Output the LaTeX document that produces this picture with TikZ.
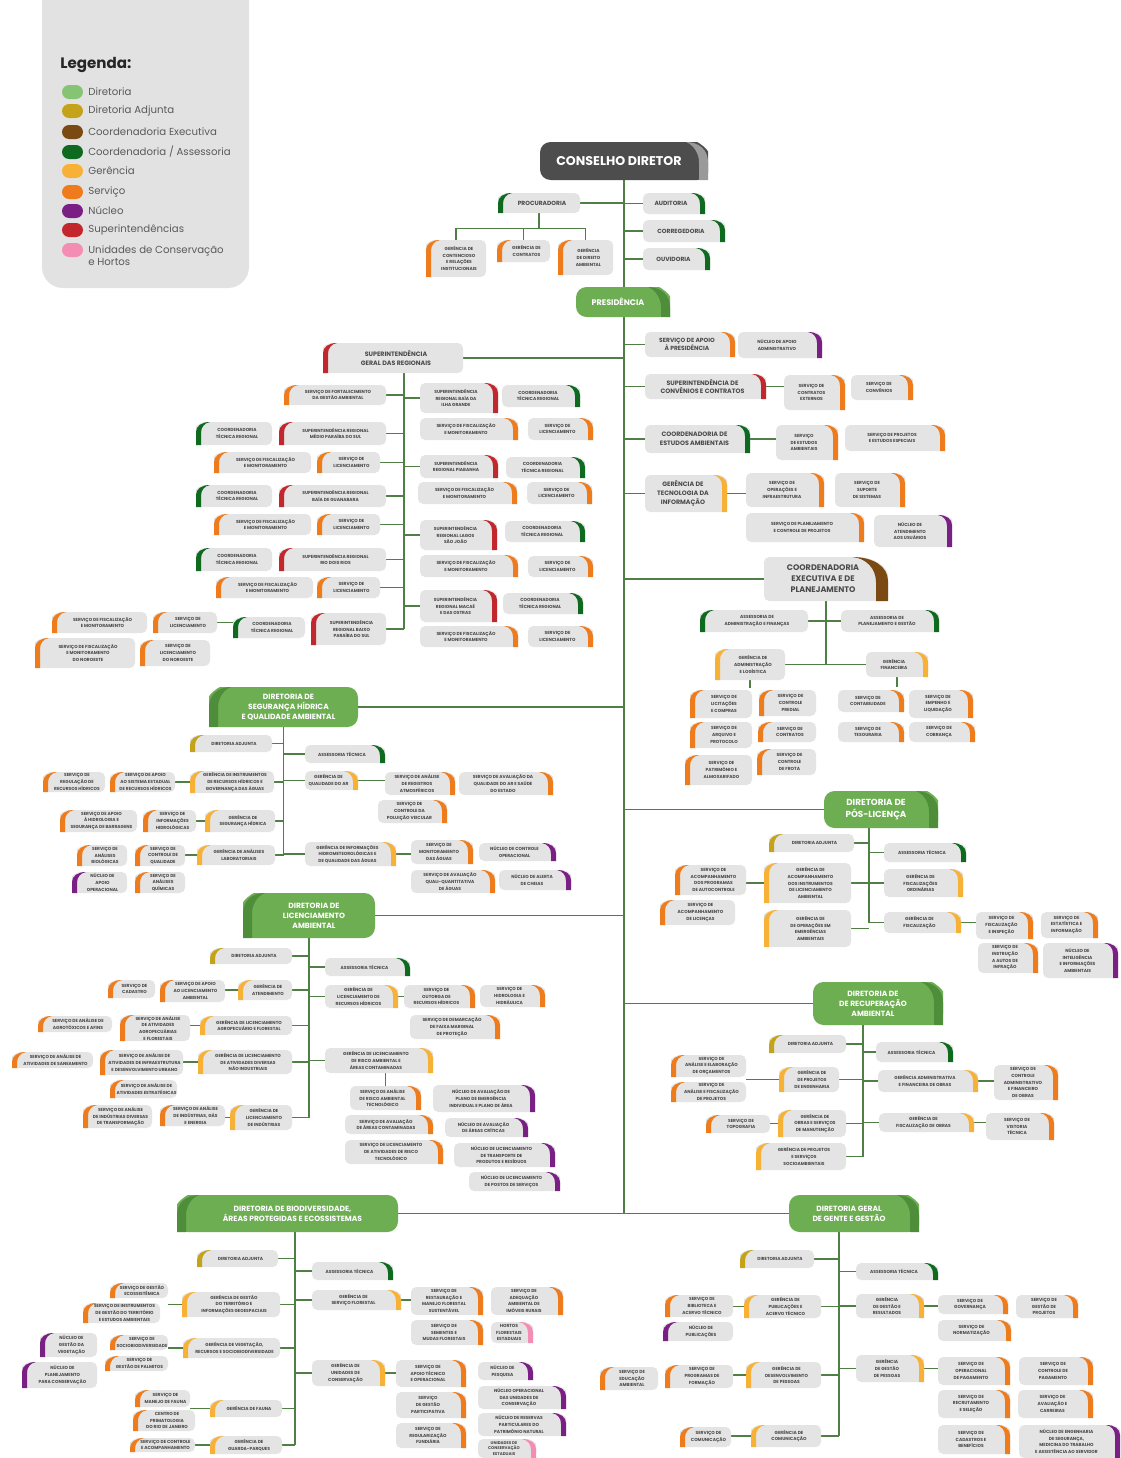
\documentclass[tikz,border=0pt]{standalone}
\usepackage{fontspec}
\newfontfamily\pop{Poppins}
\usetikzlibrary{fit}
\pgfdeclarelayer{bg}
\pgfsetlayers{bg,main}
\definecolor{boxgray}{HTML}{E4E4E4}
\definecolor{leggray}{HTML}{E2E2E2}
\definecolor{tgray}{HTML}{4A4A4A}
\definecolor{legtxt}{HTML}{5A5A5A}
\definecolor{lineg}{HTML}{4F7F45}
\definecolor{dirg}{HTML}{6EAE52}
\definecolor{dirt}{HTML}{4E8E3A}
\definecolor{consg}{HTML}{4D4D4D}
\definecolor{consl}{HTML}{9A9A9A}
\definecolor{cDir}{HTML}{86C474}
\definecolor{cAdj}{HTML}{C4A31A}
\definecolor{cExe}{HTML}{7B4A12}
\definecolor{cCoo}{HTML}{0E6A1F}
\definecolor{cGer}{HTML}{F7B136}
\definecolor{cSer}{HTML}{EE7B1C}
\definecolor{cNuc}{HTML}{7A1F83}
\definecolor{cSup}{HTML}{C1272D}
\definecolor{cUni}{HTML}{F38DB3}
\newcommand\fS{\pop\bfseries\fontsize{2.5pt}{3.8pt}\selectfont}
\newcommand\fSS{\pop\bfseries\fontsize{2.3pt}{3.2pt}\selectfont}
\newcommand\fM{\pop\bfseries\fontsize{3.4pt}{4.6pt}\selectfont}
\newcommand\fL{\pop\bfseries\fontsize{3.6pt}{5pt}\selectfont}
\newcommand\fXL{\pop\bfseries\fontsize{4.6pt}{6.2pt}\selectfont}
\newcommand\fD{\pop\bfseries\fontsize{4.3pt}{5.8pt}\selectfont}
\newcommand\fDB{\pop\bfseries\fontsize{5pt}{7pt}\selectfont}
\newcommand\fBig{\pop\bfseries\fontsize{7.2pt}{8pt}\selectfont}
\newcommand\fPres{\pop\bfseries\fontsize{4.6pt}{5pt}\selectfont}
\newcommand\legf{\pop\fontsize{5.8pt}{7pt}\selectfont}
\newcommand\legh{\pop\bfseries\fontsize{8.6pt}{9pt}\selectfont}
\newcommand\tabW{14}
\newcommand\tabD{10}
\newcommand\tabK{5}
\tikzset{
 txt/.style={align=center, inner sep=0pt, text=tgray},
 dtxt/.style={align=center, inner sep=0pt, text=white},
 ln/.style={draw=lineg, line width=0.7pt},
 dln/.style={draw=lineg, line width=1pt},
 trunk/.style={draw=lineg, line width=1.4pt},
}
% box with tab on the right
\newcommand\bR[8][\fS]{%
\fill[boxgray, rounded corners=3] (#5-\tabW,#4) .. controls (#5-0.4*\tabW,#4) and (#5,#4+0.4*\tabD) .. (#5,#4+\tabD) -- (#5,#6) -- (#3,#6) -- (#3,#4) -- cycle;
\fill[#7] (#5-\tabW,#4) .. controls (#5-0.4*\tabW,#4) and (#5,#4+0.4*\tabD) .. (#5,#4+\tabD) -- (#5,#6) -- (#5-\tabK,#6) -- (#5-\tabK,#4+\tabD+1) .. controls (#5-\tabK,#4+0.5*\tabD) and (#5-0.6*\tabW,#4+1) .. (#5-\tabW,#4) -- cycle;
\node[fit={(#3,#4)(#5,#6)}, inner sep=0pt] (#2) {};
\node[txt, font=#1] at ({(#3+#5)/2-3},{(#4+#6)/2}) {#8};}
% box with tab on the left
\newcommand\bL[8][\fS]{%
\fill[boxgray, rounded corners=3] (#3+\tabW,#4) .. controls (#3+0.4*\tabW,#4) and (#3,#4+0.4*\tabD) .. (#3,#4+\tabD) -- (#3,#6) -- (#5,#6) -- (#5,#4) -- cycle;
\fill[#7] (#3+\tabW,#4) .. controls (#3+0.4*\tabW,#4) and (#3,#4+0.4*\tabD) .. (#3,#4+\tabD) -- (#3,#6) -- (#3+\tabK,#6) -- (#3+\tabK,#4+\tabD+1) .. controls (#3+\tabK,#4+0.5*\tabD) and (#3+0.6*\tabW,#4+1) .. (#3+\tabW,#4) -- cycle;
\node[fit={(#3,#4)(#5,#6)}, inner sep=0pt] (#2) {};
\node[txt, font=#1] at ({(#3+#5)/2+3},{(#4+#6)/2}) {#8};}
% directorate, band on the right
\newcommand\dR[9][\fD]{%
\fill[#7, rounded corners=6] (#3,#4) -- (#5-22,#4) .. controls (#5-9,#4) and (#5,#4+8) .. (#5,#4+20) -- (#5,#6) -- (#3,#6) -- cycle;
\fill[#8] (#5-22,#4) .. controls (#5-9,#4) and (#5,#4+8) .. (#5,#4+20) -- (#5,#6) -- (#5-9,#6) -- (#5-9,#4+20) .. controls (#5-9,#4+12) and (#5-14,#4+3) .. (#5-22,#4) -- cycle;
\node[fit={(#3,#4)(#5,#6)}, inner sep=0pt] (#2) {};
\node[dtxt, font=#1] at ({(#3+#5)/2-5},{(#4+#6)/2}) {#9};}
% directorate, band on the left
\newcommand\dL[9][\fD]{%
\fill[#7, rounded corners=6] (#5,#4) -- (#3+22,#4) .. controls (#3+9,#4) and (#3,#4+8) .. (#3,#4+20) -- (#3,#6) -- (#5,#6) -- cycle;
\fill[#8] (#3+22,#4) .. controls (#3+9,#4) and (#3,#4+8) .. (#3,#4+20) -- (#3,#6) -- (#3+9,#6) -- (#3+9,#4+20) .. controls (#3+9,#4+12) and (#3+14,#4+3) .. (#3+22,#4) -- cycle;
\node[fit={(#3,#4)(#5,#6)}, inner sep=0pt] (#2) {};
\node[dtxt, font=#1] at ({(#3+#5)/2+5},{(#4+#6)/2}) {#9};}
\newcommand\legitem[4]{%
\fill[#3, rounded corners=4] (62,#2-7) rectangle (83,#2+7);
\node[anchor=west, inner sep=0pt, font=\legf, text=legtxt] (#1) at (88,#2) {#4};}
\begin{document}
\begin{tikzpicture}[x=0.02cm,y=-0.02cm]
\useasboundingbox (0,0) rectangle (1120,1458);
\begin{pgfonlayer}{bg}
\fill[white] (0,0) rectangle (1120,1458);
\end{pgfonlayer}
% ---------- legend ----------
\fill[leggray, rounded corners=12] (42,-30) rectangle (249,288);
\node[anchor=west, inner sep=0pt, font=\legh, text=black!85] (legt) at (60,65) {Legenda:};
\legitem{lg1}{92}{cDir}{Diretoria}
\legitem{lg2}{111}{cAdj}{Diretoria Adjunta}
\legitem{lg3}{132}{cExe}{Coordenadoria Executiva}
\legitem{lg4}{152}{cCoo}{Coordenadoria / Assessoria}
\legitem{lg5}{171}{cGer}{Gerência}
\legitem{lg6}{192}{cSer}{Serviço}
\legitem{lg7}{211}{cNuc}{Núcleo}
\legitem{lg8}{230}{cSup}{Superintendências}
\fill[cUni, rounded corners=4] (62,243) rectangle (83,257);
\node[anchor=north west, align=left, inner sep=0pt, font=\legf, text=legtxt] (lg9) at (88,245) {Unidades de Conservação\\e Hortos};
% ---------- top ----------
\dR[\fBig]{cons}{540}{142}{708}{180}{consg}{consl}{CONSELHO DIRETOR}
\bL[\fM]{proc}{498}{193}{580}{213}{cCoo}{PROCURADORIA}
\bR[\fM]{aud}{643}{193}{705}{214}{cCoo}{AUDITORIA}
\bR[\fM]{corr}{643}{220}{725}{242}{cCoo}{CORREGEDORIA}
\bR[\fM]{ouv}{643}{248}{710}{270}{cCoo}{OUVIDORIA}
\bL{gcont}{426}{240}{486}{277}{cSer}{GERÊNCIA DE\\CONTENCIOSO\\E RELAÇÕES\\INSTITUCIONAIS}
\bL{gctr}{497}{240}{550}{262}{cSer}{GERÊNCIA DE\\CONTRATOS}
\bL{gdir}{558}{240}{613}{275}{cSer}{GERÊNCIA\\DE DIREITO\\AMBIENTAL}
\dR[\fPres]{pres}{576}{287}{670}{317}{dirg}{dirt}{PRESIDÊNCIA}
% ---------- presidência, right ----------
\bR[\fM]{sapres}{645}{332}{735}{357}{cSer}{SERVIÇO DE APOIO\\À PRESIDÊNCIA}
\bR{naadm}{738}{332}{822}{358}{cNuc}{NÚCLEO DE APOIO\\ADMINISTRATIVO}
\bR[\fL]{supconv}{645}{374}{766}{399}{cSup}{SUPERINTENDÊNCIA DE\\CONVÊNIOS E CONTRATOS}
\bR{sctrext}{784}{375}{845}{410}{cSer}{SERVIÇO DE\\CONTRATOS\\EXTERNOS}
\bR{sconv}{851}{375}{913}{400}{cSer}{SERVIÇO DE\\CONVÊNIOS}
\bR[\fL]{cea}{645}{425}{750}{453}{cCoo}{COORDENADORIA DE\\ESTUDOS AMBIENTAIS}
\bR{sea}{776}{425}{838}{460}{cSer}{SERVIÇO\\DE ESTUDOS\\AMBIENTAIS}
\bR{spee}{845}{425}{945}{451}{cSer}{SERVIÇO DE PROJETOS\\E ESTUDOS ESPECIAIS}
\bR[\fL]{gti}{645}{475}{727}{512}{cGer}{GERÊNCIA DE\\TECNOLOGIA DA\\INFORMAÇÃO}
\bR{soi}{746}{473}{824}{507}{cSer}{SERVIÇO DE\\OPERAÇÕES E\\INFRAESTRUTURA}
\bR{sss}{835}{473}{905}{507}{cSer}{SERVIÇO DE\\SUPORTE\\DE SISTEMAS}
\bR{spcp}{746}{513}{864}{542}{cSer}{SERVIÇO DE PLANEJAMENTO\\E CONTROLE DE PROJETOS}
\bR{nau}{874}{515}{952}{547}{cNuc}{NÚCLEO DE\\ATENDIMENTO\\AOS USUÁRIOS}
\renewcommand\tabW{36}\renewcommand\tabD{24}\renewcommand\tabK{12}
\bR[\fXL]{cexec}{764}{557}{888}{601}{cExe}{COORDENADORIA\\EXECUTIVA E DE\\PLANEJAMENTO}
\renewcommand\tabW{14}\renewcommand\tabD{10}\renewcommand\tabK{5}
\bL{aaf}{700}{610}{808}{632}{cCoo}{ASSESSORIA DE\\ADMINISTRAÇÃO E FINANÇAS}
\bR{apg}{841}{610}{939}{632}{cCoo}{ASSESSORIA DE\\PLANEJAMENTO E GESTÃO}
\bL{gal}{715}{649}{785}{680}{cGer}{GERÊNCIA DE\\ADMINISTRAÇÃO\\E LOGÍSTICA}
\bR{gfin}{866}{652}{928}{677}{cGer}{GERÊNCIA\\FINANCEIRA}
\bL{slic}{690}{690}{752}{718}{cSer}{SERVIÇO DE\\LICITAÇÕES\\E COMPRAS}
\bL{scp}{759}{690}{816}{716}{cSer}{SERVIÇO DE\\CONTROLE\\PREDIAL}
\bL{sap}{690}{722}{752}{748}{cSer}{SERVIÇO DE\\ARQUIVO E\\PROTOCOLO}
\bL{sctr}{758}{722}{816}{742}{cSer}{SERVIÇO DE\\CONTRATOS}
\bL{spa}{685}{755}{752}{785}{cSer}{SERVIÇO DE\\PATRIMÔNIO E\\ALMOXARIFADO}
\bL{scf}{757}{749}{816}{775}{cSer}{SERVIÇO DE\\CONTROLE\\DE FROTA}
\bR{scont}{838}{690}{904}{712}{cSer}{SERVIÇO DE\\CONTABILIDADE}
\bR{semp}{909}{690}{973}{718}{cSer}{SERVIÇO DE\\EMPENHO E\\LIQUIDAÇÃO}
\bR{stes}{838}{722}{904}{742}{cSer}{SERVIÇO DE\\TESOURARIA}
\bR{scob}{909}{722}{975}{742}{cSer}{SERVIÇO DE\\COBRANÇA}
% ---------- superintendência geral ----------
\bL[\fL]{sgr}{323}{343}{463}{373}{cSup}{SUPERINTENDÊNCIA\\GERAL DAS REGIONAIS}
\bL{sfga}{284}{385}{386}{405}{cSer}{SERVIÇO DE FORTALECIMENTO\\DA GESTÃO AMBIENTAL}
\bL{ctra}{196}{422}{272}{445}{cCoo}{COORDENADORIA\\TÉCNICA REGIONAL}
\bL{srmp}{279}{422}{386}{445}{cSup}{SUPERINTENDÊNCIA REGIONAL\\MÉDIO PARAÍBA DO SUL}
\bL{sfa}{214}{452}{311}{473}{cSer}{SERVIÇO DE FISCALIZAÇÃO\\E MONITORAMENTO}
\bL{sla}{317}{452}{380}{473}{cSer}{SERVIÇO DE\\LICENCIAMENTO}
\bL{ctrb}{196}{485}{272}{507}{cCoo}{COORDENADORIA\\TÉCNICA REGIONAL}
\bL{srbg}{279}{485}{386}{507}{cSup}{SUPERINTENDÊNCIA REGIONAL\\BAÍA DE GUANABARA}
\bL{sfb}{214}{514}{311}{535}{cSer}{SERVIÇO DE FISCALIZAÇÃO\\E MONITORAMENTO}
\bL{slb}{317}{514}{380}{535}{cSer}{SERVIÇO DE\\LICENCIAMENTO}
\bL{ctrc}{196}{548}{272}{571}{cCoo}{COORDENADORIA\\TÉCNICA REGIONAL}
\bL{srdr}{279}{548}{386}{571}{cSup}{SUPERINTENDÊNCIA REGIONAL\\RIO DOIS RIOS}
\bL{sfc}{216}{577}{313}{598}{cSer}{SERVIÇO DE FISCALIZAÇÃO\\E MONITORAMENTO}
\bL{slc}{317}{577}{380}{598}{cSer}{SERVIÇO DE\\LICENCIAMENTO}
\bL{ctrd}{233}{617}{305}{638}{cCoo}{COORDENADORIA\\TÉCNICA REGIONAL}
\bL{srbp}{311}{613}{386}{645}{cSup}{SUPERINTENDÊNCIA\\REGIONAL BAIXO\\PARAÍBA DO SUL}
\bL{sfd}{52}{612}{147}{633}{cSer}{SERVIÇO DE FISCALIZAÇÃO\\E MONITORAMENTO}
\bL{sld}{153}{612}{217}{633}{cSer}{SERVIÇO DE\\LICENCIAMENTO}
\bL{sfe}{35}{638}{135}{668}{cSer}{SERVIÇO DE FISCALIZAÇÃO\\E MONITORAMENTO\\DO NOROESTE}
\bL{sle}{140}{640}{210}{666}{cSer}{SERVIÇO DE\\LICENCIAMENTO\\DO NOROESTE}
\bR{srig}{420}{383}{498}{413}{cSup}{SUPERINTENDÊNCIA\\REGIONAL BAÍA DA\\ILHA GRANDE}
\bR{ctre}{502}{385}{580}{407}{cCoo}{COORDENADORIA\\TÉCNICA REGIONAL}
\bR{sff}{420}{418}{518}{440}{cSer}{SERVIÇO DE FISCALIZAÇÃO\\E MONITORAMENTO}
\bR{slf}{528}{418}{593}{440}{cSer}{SERVIÇO DE\\LICENCIAMENTO}
\bR{srpi}{420}{455}{498}{478}{cSup}{SUPERINTENDÊNCIA\\REGIONAL PIABANHA}
\bR{ctrf}{506}{457}{585}{478}{cCoo}{COORDENADORIA\\TÉCNICA REGIONAL}
\bR{sfg}{418}{482}{517}{504}{cSer}{SERVIÇO DE FISCALIZAÇÃO\\E MONITORAMENTO}
\bR{slg}{527}{482}{592}{504}{cSer}{SERVIÇO DE\\LICENCIAMENTO}
\bR{srls}{420}{520}{497}{550}{cSup}{SUPERINTENDÊNCIA\\REGIONAL LAGOS\\SÃO JOÃO}
\bR{ctrg}{505}{521}{585}{542}{cCoo}{COORDENADORIA\\TÉCNICA REGIONAL}
\bR{sfh}{420}{555}{518}{577}{cSer}{SERVIÇO DE FISCALIZAÇÃO\\E MONITORAMENTO}
\bR{slh}{528}{556}{593}{577}{cSer}{SERVIÇO DE\\LICENCIAMENTO}
\bR{srmo}{420}{590}{497}{622}{cSup}{SUPERINTENDÊNCIA\\REGIONAL MACAÉ\\E DAS OSTRAS}
\bR{ctrh}{503}{593}{583}{614}{cCoo}{COORDENADORIA\\TÉCNICA REGIONAL}
\bR{sfi}{420}{626}{518}{647}{cSer}{SERVIÇO DE FISCALIZAÇÃO\\E MONITORAMENTO}
\bR{sli}{528}{626}{593}{647}{cSer}{SERVIÇO DE\\LICENCIAMENTO}
\coordinate (sgrs) at (404,373);
% ---------- segurança hídrica ----------
\dL{dsh}{209}{687}{358}{727}{dirg}{dirt}{DIRETORIA DE\\SEGURANÇA HÍDRICA\\E QUALIDADE AMBIENTAL}
\bL{shda}{190}{735}{272}{752}{cAdj}{DIRETORIA ADJUNTA}
\bR{shat}{305}{745}{385}{763}{cCoo}{ASSESSORIA TÉCNICA}
\bL{shgi}{190}{771}{274}{793}{cGer}{GERÊNCIA DE INSTRUMENTOS\\DE RECURSOS HÍDRICOS E\\GOVERNANÇA DAS ÁGUAS}
\bL{shsa}{110}{772}{175}{792}{cSer}{SERVIÇO DE APOIO\\AO SISTEMA ESTADUAL\\DE RECURSOS HÍDRICOS}
\bL{shsr}{43}{772}{105}{792}{cSer}{SERVIÇO DE\\REGULAÇÃO DE\\RECURSOS HÍDRICOS}
\bR{shgq}{305}{771}{358}{790}{cGer}{GERÊNCIA DE\\QUALIDADE DO AR}
\bR{shsar}{385}{772}{455}{795}{cSer}{SERVIÇO DE ANÁLISE\\DE REGISTROS\\ATMOSFÉRICOS}
\bR{shsaq}{459}{772}{553}{795}{cSer}{SERVIÇO DE AVALIAÇÃO DA\\QUALIDADE DO AR E SAÚDE\\DO ESTADO}
\bR{shscp}{378}{800}{447}{823}{cSer}{SERVIÇO DE\\CONTROLE DA\\POLUIÇÃO VEICULAR}
\bL{shgs}{205}{810}{275}{832}{cGer}{GERÊNCIA DE\\SEGURANÇA HÍDRICA}
\bL{shsih}{143}{810}{196}{832}{cSer}{SERVIÇO DE\\INFORMAÇÕES\\HIDROLÓGICAS}
\bL{shsb}{60}{810}{137}{832}{cSer}{SERVIÇO DE APOIO\\À HIDROLOGIA E\\SEGURANÇA DE BARRAGENS}
\bL{shga}{197}{845}{275}{865}{cGer}{GERÊNCIA DE ANÁLISES\\LABORATORIAIS}
\bR{shgih}{305}{842}{396}{866}{cGer}{GERÊNCIA DE INFORMAÇÕES\\HIDROMETEOROLÓGICAS E\\DE QUALIDADE DAS ÁGUAS}
\bR{shsm}{411}{840}{473}{864}{cSer}{SERVIÇO DE\\MONITORAMENTO\\DAS ÁGUAS}
\bR{shnco}{479}{843}{556}{861}{cNuc}{NÚCLEO DE CONTROLE\\OPERACIONAL}
\bR{shsqq}{411}{870}{495}{893}{cSer}{SERVIÇO DE AVALIAÇÃO\\QUALI-QUANTITATIVA\\DE ÁGUAS}
\bR{shnac}{499}{870}{571}{890}{cNuc}{NÚCLEO DE ALERTA\\DE CHEIAS}
\bL{shscq}{135}{845}{185}{866}{cSer}{SERVIÇO DE\\CONTROLE DE\\QUALIDADE}
\bL{shsab}{77}{845}{127}{866}{cSer}{SERVIÇO DE\\ANÁLISES\\BIOLÓGICAS}
\bL{shnao}{72}{872}{127}{893}{cNuc}{NÚCLEO DE\\APOIO\\OPERACIONAL}
\bL{shsqu}{135}{872}{185}{893}{cSer}{SERVIÇO DE\\ANÁLISES\\QUÍMICAS}
% ---------- licenciamento ----------
\dL{dla}{243}{893}{375}{938}{dirg}{dirt}{DIRETORIA DE\\LICENCIAMENTO\\AMBIENTAL}
\bL{lada}{210}{948}{292}{964}{cAdj}{DIRETORIA ADJUNTA}
\bR{lat}{325}{958}{410}{976}{cCoo}{ASSESSORIA TÉCNICA}
\bL{lga}{238}{980}{292}{1000}{cGer}{GERÊNCIA DE\\ATENDIMENTO}
\bL{lsal}{160}{980}{225}{1002}{cSer}{SERVIÇO DE APOIO\\AO LICENCIAMENTO\\AMBIENTAL}
\bL{lsc}{108}{980}{155}{998}{cSer}{SERVIÇO DE\\CADASTRO}
\bR{lgrh}{325}{985}{398}{1008}{cGer}{GERÊNCIA DE\\LICENCIAMENTO DE\\RECURSOS HÍDRICOS}
\bR{lso}{404}{985}{475}{1008}{cSer}{SERVIÇO DE\\OUTORGA DE\\RECURSOS HÍDRICOS}
\bR{lshh}{480}{985}{545}{1007}{cSer}{SERVIÇO DE\\HIDROLOGIA E\\HIDRÁULICA}
\bR{lsdf}{410}{1015}{500}{1039}{cSer}{SERVIÇO DE DEMARCAÇÃO\\DE FAIXA MARGINAL\\DE PROTEÇÃO}
\bL{lgaf}{200}{1016}{292}{1035}{cGer}{GERÊNCIA DE LICENCIAMENTO\\AGROPECUÁRIO E FLORESTAL}
\bL{lsaaf}{120}{1015}{190}{1041}{cSer}{SERVIÇO DE ANÁLISE\\DE ATIVIDADES\\AGROPECUÁRIAS\\E FLORESTAIS}
\bL{lsag}{38}{1016}{112}{1032}{cSer}{SERVIÇO DE ANÁLISE DE\\AGROTÓXICOS E AFINS}
\bL{lgnd}{198}{1050}{292}{1074}{cGer}{GERÊNCIA DE LICENCIAMENTO\\DE ATIVIDADES DIVERSAS\\NÃO INDUSTRIAIS}
\bL{lsai}{100}{1050}{183}{1075}{cSer}{SERVIÇO DE ANÁLISE DE\\ATIVIDADES DE INFRAESTRUTURA\\E DESENVOLVIMENTO URBANO}
\bL{lsas}{12}{1052}{93}{1068}{cSer}{SERVIÇO DE ANÁLISE DE\\ATIVIDADES DE SANEAMENTO}
\bL{lsae}{110}{1080}{177}{1098}{cSer}{SERVIÇO DE ANÁLISE DE\\ATIVIDADES ESTRATÉGICAS}
\bR{lgra}{325}{1048}{433}{1073}{cGer}{GERÊNCIA DE LICENCIAMENTO\\DE RISCO AMBIENTAL E\\ÁREAS CONTAMINADAS}
\bR{lsar}{350}{1086}{421}{1110}{cSer}{SERVIÇO DE ANÁLISE\\DE RISCO AMBIENTAL\\TECNOLÓGICO}
\bR{lnpe}{433}{1085}{535}{1112}{cNuc}{NÚCLEO DE AVALIAÇÃO DE\\PLANO DE EMERGÊNCIA\\INDIVIDUAL E PLANO DE ÁREA}
\bR{lsac}{345}{1115}{433}{1134}{cSer}{SERVIÇO DE AVALIAÇÃO\\DE ÁREAS CONTAMINADAS}
\bR{lnac}{445}{1118}{528}{1137}{cNuc}{NÚCLEO DE AVALIAÇÃO\\DE ÁREAS CRÍTICAS}
\bR{lslr}{345}{1140}{443}{1164}{cSer}{SERVIÇO DE LICENCIAMENTO\\DE ATIVIDADES DE RISCO\\TECNOLÓGICO}
\bR{lnlt}{454}{1143}{555}{1167}{cNuc}{NÚCLEO DE LICENCIAMENTO\\DE TRANSPORTE DE\\PRODUTOS E RESÍDUOS}
\bR{lnlp}{469}{1172}{560}{1191}{cNuc}{NÚCLEO DE LICENCIAMENTO\\DE POSTOS DE SERVIÇOS}
\bL{lgi}{230}{1105}{292}{1130}{cGer}{GERÊNCIA DE\\LICENCIAMENTO\\DE INDÚSTRIAS}
\bL{lsig}{160}{1105}{225}{1126}{cSer}{SERVIÇO DE ANÁLISE\\DE INDÚSTRIAS, GÁS\\E ENERGIA}
\bL{lsit}{83}{1105}{152}{1128}{cSer}{SERVIÇO DE ANÁLISE\\DE INDÚSTRIAS DIVERSAS\\DE TRANSFORMAÇÃO}
% ---------- pós-licença ----------
\dR[\fDB]{dpl}{824}{791}{938}{828}{dirg}{dirt}{DIRETORIA DE\\PÓS-LICENÇA}
\coordinate (dpls) at (869,828);
\bL{pda}{769}{834}{854}{852}{cAdj}{DIRETORIA ADJUNTA}
\bR{pat}{884}{843}{966}{862}{cCoo}{ASSESSORIA TÉCNICA}
\bL{pgai}{764}{863}{851}{903}{cGer}{GERÊNCIA DE\\ACOMPANHAMENTO\\DOS INSTRUMENTOS\\DE LICENCIAMENTO\\AMBIENTAL}
\bR{pgfo}{884}{869}{963}{897}{cGer}{GERÊNCIA DE\\FISCALIZAÇÕES\\ORDINÁRIAS}
\bL{pgoe}{764}{910}{851}{947}{cGer}{GERÊNCIA DE\\DE OPERAÇÕES EM\\EMERGÊNCIAS\\AMBIENTAIS}
\bR{pgf}{884}{912}{961}{933}{cGer}{GERÊNCIA DE\\FISCALIZAÇÃO}
\bR{psfi}{976}{912}{1033}{939}{cSer}{SERVIÇO DE\\FISCALIZAÇÃO\\E INSPEÇÃO}
\bR{psei}{1041}{912}{1098}{938}{cSer}{SERVIÇO DE\\ESTATÍSTICA E\\INFORMAÇÃO}
\bR{psia}{978}{943}{1038}{973}{cSer}{SERVIÇO DE\\INSTRUÇÃO\\A AUTOS DE\\INFRAÇÃO}
\bR{pnii}{1043}{943}{1118}{978}{cNuc}{NÚCLEO DE\\INTELIGÊNCIA\\E INFORMAÇÕES\\AMBIENTAIS}
\bL{psapa}{675}{865}{746}{895}{cSer}{SERVIÇO DE\\ACOMPANHAMENTO\\DOS PROGRAMAS\\DE AUTOCONTROLE}
\bL{psal}{660}{900}{735}{925}{cSer}{SERVIÇO DE\\ACOMPANHAMENTO\\DE LICENÇAS}
% ---------- recuperação ----------
\dR{dra}{813}{982}{943}{1025}{dirg}{dirt}{DIRETORIA DE\\DE RECUPERAÇÃO\\AMBIENTAL}
\coordinate (dras) at (863,1025);
\bL{rda}{769}{1035}{846}{1053}{cAdj}{DIRETORIA ADJUNTA}
\bR{rat}{876}{1042}{953}{1062}{cCoo}{ASSESSORIA TÉCNICA}
\bL{rgpe}{779}{1067}{839}{1092}{cGer}{GERÊNCIA DE\\DE PROJETOS\\DE ENGENHARIA}
\bL{rsaeo}{671}{1055}{746}{1077}{cSer}{SERVIÇO DE\\ANÁLISE E ELABORAÇÃO\\DE ORÇAMENTOS}
\bL{rsafp}{671}{1082}{746}{1102}{cSer}{SERVIÇO DE\\ANÁLISE E FISCALIZAÇÃO\\DE PROJETOS}
\bR{rgafo}{878}{1070}{978}{1092}{cGer}{GERÊNCIA ADMINISTRATIVA\\E FINANCEIRA DE OBRAS}
\bR{rscaf}{994}{1065}{1058}{1100}{cSer}{SERVIÇO DE\\CONTROLE\\ADMINISTRATIVO\\E FINANCEIRO\\DE OBRAS}
\bL{rst}{706}{1115}{770}{1133}{cSer}{SERVIÇO DE\\TOPOGRAFIA}
\bL{rgos}{778}{1110}{846}{1137}{cGer}{GERÊNCIA DE\\OBRAS E SERVIÇOS\\DE MANUTENÇÃO}
\bR{rgfob}{879}{1113}{974}{1132}{cGer}{GERÊNCIA DE\\FISCALIZAÇÃO DE OBRAS}
\bR{rsvt}{986}{1113}{1054}{1140}{cSer}{SERVIÇO DE\\VISTORIA\\TÉCNICA}
\bL{rgps}{756}{1143}{846}{1170}{cGer}{GERÊNCIA DE PROJETOS\\E SERVIÇOS\\SOCIOAMBIENTAIS}
% ---------- biodiversidade ----------
\dL{dbio}{177}{1195}{398}{1232}{dirg}{dirt}{DIRETORIA DE BIODIVERSIDADE,\\ÁREAS PROTEGIDAS E ECOSSISTEMAS}
\coordinate (dbios) at (295,1232);
\bL{bda}{197}{1250}{278}{1267}{cAdj}{DIRETORIA ADJUNTA}
\bR{bat}{312}{1262}{393}{1280}{cCoo}{ASSESSORIA TÉCNICA}
\bL{bggt}{182}{1292}{280}{1317}{cGer}{GERÊNCIA DE GESTÃO\\DO TERRITÓRIO E\\INFORMAÇÕES GEOESPACIAIS}
\bL{bsge}{110}{1283}{168}{1298}{cSer}{SERVIÇO DE GESTÃO\\ECOSSISTÊMICA}
\bL{bsig}{83}{1303}{160}{1323}{cSer}{SERVIÇO DE INSTRUMENTOS\\DE GESTÃO DO TERRITÓRIO\\E ESTUDOS AMBIENTAIS}
\bR{bgsf}{312}{1290}{401}{1310}{cGer}{GERÊNCIA DE\\SERVIÇO FLORESTAL}
\bR{bsrm}{411}{1287}{483}{1315}{cSer}{SERVIÇO DE\\RESTAURAÇÃO E\\MANEJO FLORESTAL\\SUSTENTÁVEL}
\bR{bsaa}{491}{1287}{563}{1315}{cSer}{SERVIÇO DE\\ADEQUAÇÃO\\AMBIENTAL DE\\IMÓVEIS RURAIS}
\bR{bssm}{411}{1320}{483}{1345}{cSer}{SERVIÇO DE\\SEMENTES E\\MUDAS FLORESTAIS}
\bR{bhfe}{491}{1322}{533}{1343}{cUni}{HORTOS\\FLORESTAIS\\ESTADUAIS}
\bL{bgvr}{183}{1338}{280}{1358}{cGer}{GERÊNCIA DE VEGETAÇÃO,\\RECURSOS E SOCIOBIODIVERSIDADE}
\bL{bssb}{110}{1335}{168}{1350}{cSer}{SERVIÇO DE\\SOCIOBIODIVERSIDADE}
\bL{bsgp}{105}{1356}{168}{1371}{cSer}{SERVIÇO DE\\GESTÃO DE PALMITOS}
\bL{bngv}{40}{1333}{97}{1357}{cNuc}{NÚCLEO DE\\GESTÃO DA\\VEGETAÇÃO}
\bL{bnpc}{22}{1362}{97}{1388}{cNuc}{NÚCLEO DE\\PLANEJAMENTO\\PARA CONSERVAÇÃO}
\bR{bguc}{312}{1360}{385}{1386}{cGer}{GERÊNCIA DE\\UNIDADES DE\\CONSERVAÇÃO}
\bR{bsat}{396}{1360}{466}{1387}{cSer}{SERVIÇO DE\\APOIO TÉCNICO\\E OPERACIONAL}
\bR{bnp}{478}{1362}{533}{1380}{cNuc}{NÚCLEO DE\\PESQUISA}
\bR{bsgpa}{396}{1392}{466}{1418}{cSer}{SERVIÇO\\DE GESTÃO\\PARTICIPATIVA}
\bR{bnouc}{478}{1386}{566}{1409}{cNuc}{NÚCLEO OPERACIONAL\\DAS UNIDADES DE\\CONSERVAÇÃO}
\bR{bsrf}{396}{1423}{466}{1448}{cSer}{SERVIÇO DE\\REGULARIZAÇÃO\\FUNDIÁRIA}
\bR{bnrp}{478}{1413}{566}{1436}{cNuc}{NÚCLEO DE RESERVAS\\PARTICULARES DO\\PATRIMÔNIO NATURAL}
\bR[\fSS]{buce}{478}{1439}{536}{1458}{cUni}{UNIDADES DE\\CONSERVAÇÃO\\ESTADUAIS}
\bL{bgf}{210}{1400}{282}{1417}{cGer}{GERÊNCIA DE FAUNA}
\bL{bsmf}{135}{1390}{190}{1407}{cSer}{SERVIÇO DE\\MANEJO DE FAUNA}
\bL{bcpr}{133}{1410}{195}{1431}{cSer}{CENTRO DE\\PRIMATOLOGIA\\DO RIO DE JANEIRO}
\bL{bggp}{210}{1436}{282}{1454}{cGer}{GERÊNCIA DE\\GUARDA-PARQUES}
\bL{bsca}{130}{1438}{195}{1452}{cSer}{SERVIÇO DE CONTROLE\\E ACOMPANHAMENTO}
% ---------- gente e gestão ----------
\dR{dgg}{789}{1195}{919}{1232}{dirg}{dirt}{DIRETORIA GERAL\\DE GENTE E GESTÃO}
\coordinate (dggs) at (839,1232);
\bL{gda}{740}{1250}{814}{1268}{cAdj}{DIRETORIA ADJUNTA}
\bR{gat}{856}{1263}{938}{1280}{cCoo}{ASSESSORIA TÉCNICA}
\bL{ggpa}{744}{1295}{821}{1318}{cGer}{GERÊNCIA DE\\PUBLICAÇÕES E\\ACERVO TÉCNICO}
\bL{gsba}{665}{1295}{733}{1317}{cSer}{SERVIÇO DE\\BIBLIOTECA E\\ACERVO TÉCNICO}
\bL{gnp}{663}{1322}{733}{1341}{cNuc}{NÚCLEO DE\\PUBLICAÇÕES}
\bR{gggr}{856}{1294}{924}{1318}{cGer}{GERÊNCIA\\DE GESTÃO E\\RESULTADOS}
\bR{gsg}{938}{1295}{1008}{1314}{cSer}{SERVIÇO DE\\GOVERNANÇA}
\bR{gsgp}{1016}{1295}{1078}{1318}{cSer}{SERVIÇO DE\\GESTÃO DE\\PROJETOS}
\bR{gsn}{938}{1320}{1011}{1341}{cSer}{SERVIÇO DE\\NORMATIZAÇÃO}
\bL{ggdp}{746}{1362}{821}{1388}{cGer}{GERÊNCIA DE\\DESENVOLVIMENTO\\DE PESSOAS}
\bL{gspf}{665}{1365}{733}{1388}{cSer}{SERVIÇO DE\\PROGRAMAS DE\\FORMAÇÃO}
\bL{gsea}{600}{1367}{658}{1390}{cSer}{SERVIÇO DE\\EDUCAÇÃO\\AMBIENTAL}
\bR{gggp}{856}{1355}{924}{1382}{cGer}{GERÊNCIA\\DE GESTÃO\\DE PESSOAS}
\bR{gsop}{938}{1357}{1010}{1385}{cSer}{SERVIÇO DE\\OPERACIONAL\\DE PAGAMENTO}
\bR{gscp}{1019}{1357}{1093}{1385}{cSer}{SERVIÇO DE\\CONTROLE DE\\PAGAMENTO}
\bR{gsrs}{938}{1390}{1010}{1418}{cSer}{SERVIÇO DE\\RECRUTAMENTO\\E SELEÇÃO}
\bR{gsac}{1018}{1390}{1093}{1418}{cSer}{SERVIÇO DE\\AVALIAÇÃO E\\CARREIRAS}
\bR{gscb}{938}{1425}{1010}{1454}{cSer}{SERVIÇO DE\\CADASTROS E\\BENEFÍCIOS}
\bR{gnes}{1019}{1425}{1120}{1458}{cNuc}{NÚCLEO DE ENGENHARIA\\DE SEGURANÇA,\\MEDICINA DO TRABALHO\\E ASSISTÊNCIA AO SERVIDOR}
\bL{ggc}{751}{1425}{821}{1447}{cGer}{GERÊNCIA DE\\COMUNICAÇÃO}
\bL{gsc}{680}{1427}{731}{1447}{cSer}{SERVIÇO DE\\COMUNICAÇÃO}
% ---------- connectors ----------
\begin{pgfonlayer}{bg}
\draw[trunk] (cons.south) -- (cons.south |- dbio.east);
\foreach \n in {proc} \draw[ln] (\n.east) -- (\n.east -| cons.south);
\foreach \n in {aud,corr,ouv,sapres,supconv,cea,gti,cexec} \draw[ln] (\n.west) -- (\n.west -| cons.south);
\path (proc.south) ++(0,15) coordinate (pj);
\draw[ln] (proc.south) -- (pj);
\draw[ln] (gcont.north) |- (pj) -| (gdir.north);
\draw[ln] (gctr.north) -- (gctr.north |- pj);
\draw[ln] (supconv.east) -- (supconv.east -| sctrext.west);
\draw[ln] (cea.east) -- (cea.east -| sea.west);
\draw[ln] (gti.east) -- (gti.east -| soi.west);
\draw[ln] (cexec.south) -- (cexec.south |- gal.east);
\draw[ln] (aaf.east) -- (aaf.east -| apg.west);
\draw[ln] (gal.east) -- (gal.east -| gfin.west);
\draw[ln] (gal.south) -- ++(0,8);
\draw[ln] (gfin.south) -- ++(0,10);
% superintendência geral
\draw[ln] (sgr.east) -- (sgr.east -| cons.south);
\draw[ln] (sgrs) -- (sgrs |- srbp.east);
\foreach \n in {sfga,srmp,sla,srbg,slb,srdr,slc,srbp} \draw[ln] (\n.east) -- (\n.east -| sgrs);
\foreach \n in {srig,srpi,srls,srmo} \draw[ln] (\n.west) -- (\n.west -| sgrs);
\draw[ln] (sld.east) -- (sld.east -| ctrd.west);
% segurança hídrica
\draw[dln] (dsh.east) -- (dsh.east -| cons.south);
\draw[ln] (dsh.south) -- (dsh.south |- shga.east);
\foreach \n in {shda,shgi,shgs,shga} \draw[ln] (\n.east) -- (\n.east -| dsh.south);
\foreach \n in {shat,shgq,shgih} \draw[ln] (\n.west) -- (\n.west -| dsh.south);
\draw[ln] (shgi.west) -- (shgi.west -| shsa.east);
\draw[ln] (shgq.east) -- (shgq.east -| shsar.west);
\draw[ln] (shgs.west) -- (shgs.west -| shsih.east);
\draw[ln] (shga.west) -- (shga.west -| shscq.east);
\draw[ln] (shgih.east) -- (shgih.east -| shsm.west);
% licenciamento
\draw[dln] (dla.east) -- (dla.east -| cons.south);
\draw[ln] (dla.south) -- (dla.south |- lgi.east);
\foreach \n in {lada,lga,lgaf,lgnd,lgi} \draw[ln] (\n.east) -- (\n.east -| dla.south);
\foreach \n in {lat,lgrh,lgra} \draw[ln] (\n.west) -- (\n.west -| dla.south);
\draw[ln] (lga.west) -- (lga.west -| lsal.east);
\draw[ln] (lgaf.west) -- (lgaf.west -| lsaaf.east);
\draw[ln] (lgnd.west) -- (lgnd.west -| lsai.east);
\draw[ln] (lgi.west) -- (lgi.west -| lsig.east);
\draw[ln] (lgrh.east) -- (lgrh.east -| lso.west);
\draw[ln] (lsar.north) -- (lsar.north |- lgra.south);
% pós-licença
\draw[dln] (dpl.west) -- (dpl.west -| cons.south);
\draw[ln] (dpls) -- (dpls |- pgf.west);
\foreach \n in {pda,pgai,pgoe} \draw[ln] (\n.east) -- (\n.east -| dpls);
\foreach \n in {pat,pgfo,pgf} \draw[ln] (\n.west) -- (\n.west -| dpls);
\draw[ln] (pgai.west) -- (pgai.west -| psapa.east);
\draw[ln] (pgf.east) -- (pgf.east -| psfi.west);
% recuperação
\draw[dln] (dra.west) -- (dra.west -| cons.south);
\draw[ln] (dras) -- (dras |- rgps.east);
\foreach \n in {rda,rgpe,rgos,rgps} \draw[ln] (\n.east) -- (\n.east -| dras);
\foreach \n in {rat,rgafo,rgfob} \draw[ln] (\n.west) -- (\n.west -| dras);
\draw[ln] (rgpe.west) -- (rgpe.west -| rsaeo.east);
\draw[ln] (rgafo.east) -- (rgafo.east -| rscaf.west);
\draw[ln] (rgos.west) -- (rgos.west -| rst.east);
\draw[ln] (rgfob.east) -- (rgfob.east -| rsvt.west);
% biodiversidade
\draw[dln] (dbio.east) -- (dbio.east -| cons.south);
\draw[ln] (dbios) -- (dbios |- bggp.east);
\foreach \n in {bda,bggt,bgvr,bgf,bggp} \draw[ln] (\n.east) -- (\n.east -| dbios);
\foreach \n in {bat,bgsf,bguc} \draw[ln] (\n.west) -- (\n.west -| dbios);
\draw[ln] (bggt.west) -- (bggt.west -| bsge.east);
\draw[ln] (bgvr.west) -- (bgvr.west -| bssb.east);
\draw[ln] (bgf.west) -- (bgf.west -| bsmf.east);
\draw[ln] (bggp.west) -- (bggp.west -| bsca.east);
\draw[ln] (bgsf.east) -- (bgsf.east -| bsrm.west);
\draw[ln] (bguc.east) -- (bguc.east -| bsat.west);
% gente e gestão
\draw[dln] (dgg.west) -- (dgg.west -| cons.south);
\draw[ln] (dggs) -- (dggs |- ggc.east);
\foreach \n in {gda,ggpa,ggdp,ggc} \draw[ln] (\n.east) -- (\n.east -| dggs);
\foreach \n in {gat,gggr,gggp} \draw[ln] (\n.west) -- (\n.west -| dggs);
\draw[ln] (ggpa.west) -- (ggpa.west -| gsba.east);
\draw[ln] (ggdp.west) -- (ggdp.west -| gspf.east);
\draw[ln] (ggc.west) -- (ggc.west -| gsc.east);
\draw[ln] (gggr.east) -- (gggr.east -| gsg.west);
\draw[ln] (gggp.east) -- (gggp.east -| gsop.west);
\end{pgfonlayer}
\end{tikzpicture}
\end{document}
